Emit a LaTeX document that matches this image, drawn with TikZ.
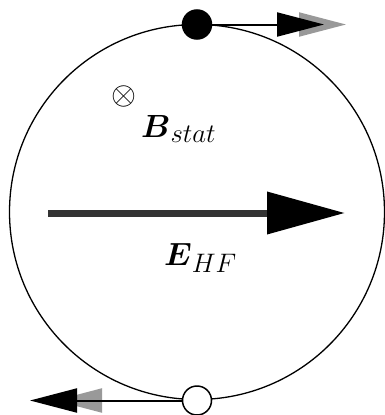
\RequirePackage{fix-cm}
\documentclass[tikz,border=0pt]{standalone}
\usepackage{amsmath}
\usepackage{graphicx}
\usetikzlibrary{arrows.meta,calc}
\definecolor{ghostgray}{gray}{0.6}
\newcommand{\biglabel}[1]{\scalebox{1.29}{$#1$}}

\begin{document}
\begin{tikzpicture}[x=1pt,y=-1pt,font=\fontsize{24.88}{30}\selectfont,
  charge/.style={circle,draw,line width=1.5pt,minimum size=29pt,inner sep=0pt},
  vel/.style={line width=2pt,-{Triangle[length=47pt,width=24pt]}},
  lbl/.style={inner sep=0pt,anchor=base west}]
  \useasboundingbox (0,0) rectangle (384,415);
  % orbit with the two charges
  \node[circle,draw,line width=1.3pt,minimum size=375pt,inner sep=0pt,outer sep=0pt] (orbit) at (197,212) {};
  \node[charge,fill=black] (el) at (orbit.north) {};
  \node[charge,fill=white] (ion) at ($(orbit.south)+(0,1)$) {};
  \coordinate (elv) at ($(el)+(127,0)$);
  \coordinate (elg) at ($(el)+(149,0)$);
  \coordinate (ionv) at ($(ion)+(-167,0)$);
  \coordinate (iong) at ($(ion)+(-142,0)$);
  \draw[vel,ghostgray] (el) -- (elg);
  \draw[vel] (el) -- (elv);
  \draw[vel,ghostgray] (ion) -- (iong);
  \draw[vel] (ion) -- (ionv);
  % fields
  \node[inner sep=0pt] (bsign) at (124,96) {\biglabel{\otimes}};
  \node[lbl] (bstat) at (141,137) {\biglabel{\boldsymbol{B}_{stat}}};
  \coordinate (efrom) at (48,213);
  \coordinate (eto) at (345,213);
  \draw[line width=7pt,black!80,-{Triangle[length=78pt,width=41pt,color=black]}] (efrom) -- (eto);
  \node[lbl] (ehf) at (164,265) {\biglabel{\boldsymbol{E}_{HF}}};
\end{tikzpicture}
\end{document}
